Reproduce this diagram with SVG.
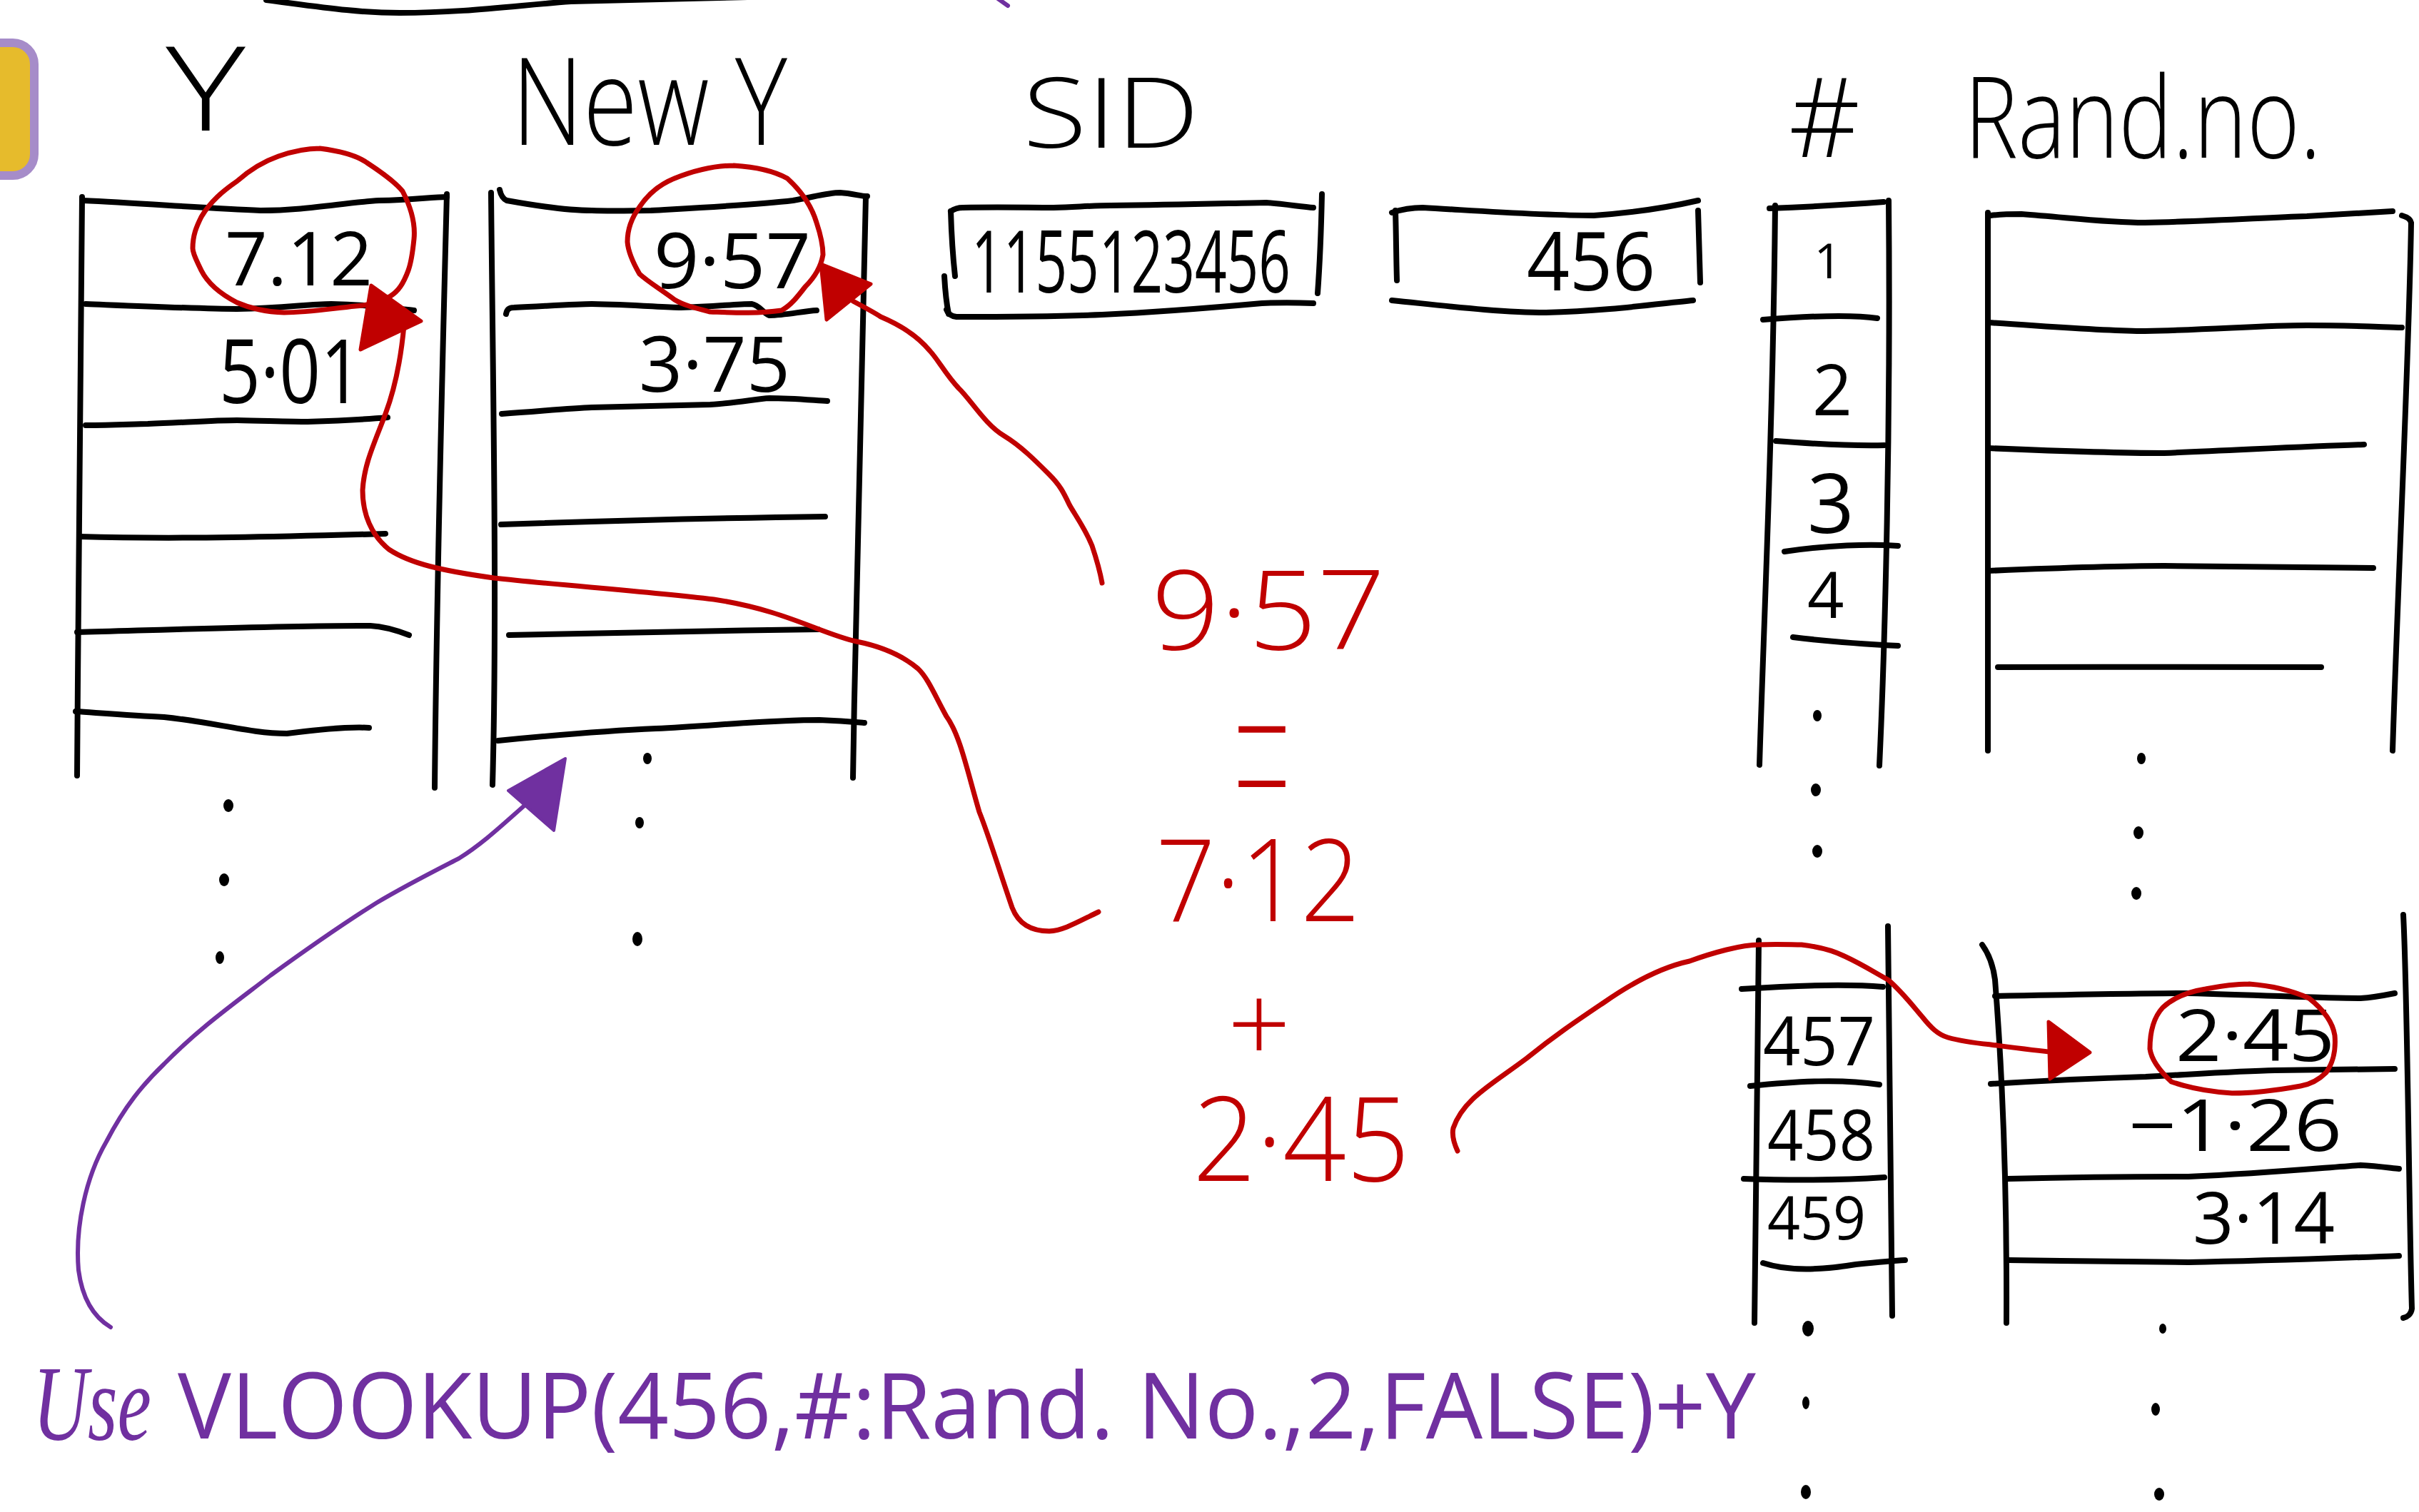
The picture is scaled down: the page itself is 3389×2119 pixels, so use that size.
<svg xmlns="http://www.w3.org/2000/svg" width="3389" height="2119" viewBox="0 0 3389 2119">
  <style>
    .ink{fill:none;stroke:#000;stroke-width:8;stroke-linecap:round;stroke-linejoin:round}
    .red{fill:none;stroke:#C00000;stroke-width:7;stroke-linecap:round;stroke-linejoin:round}
    .redfill{fill:#C00000;stroke:#C00000;stroke-width:5;stroke-linejoin:round}
    .pur{fill:none;stroke:#7030A0;stroke-width:6;stroke-linecap:round;stroke-linejoin:round}
    .purfill{fill:#7030A0;stroke:#7030A0;stroke-width:4;stroke-linejoin:round}
    .hand{font-family:"Open Sans","Liberation Sans",sans-serif;font-weight:300;fill:#000}
    .val{font-family:"Open Sans","Liberation Sans",sans-serif;font-weight:400;fill:#000}
    .rhand{font-family:"Open Sans","Liberation Sans",sans-serif;font-weight:300;fill:#C00000}
    .thin{font-family:Inter,"Open Sans",sans-serif;font-weight:100;fill:#C00000}
    .formula{font-family:"Open Sans","Liberation Sans",sans-serif;fill:#7030A0}
    .script{font-family:"Liberation Serif",serif;font-style:italic;fill:#7030A0}
    .dot{fill:#000}
  </style>

  <rect width="3389" height="2119" fill="#fff"/>

  <!-- top edge stroke and tab -->
  <path class="ink" d="M373 0 C450 10 500 18 560 18 C650 18 720 8 800 2 L1130 -6"/>
  <path class="pur" d="M1398 -2 L1412 8"/>
  <rect x="-40" y="60" width="88" height="186" rx="30" fill="#E6BB2C" stroke="#A68CC9" stroke-width="12"/>

  <!-- Y column -->
  <g id="table-y">
    <text class="hand" x="232" y="183" font-size="165" textLength="112" lengthAdjust="spacingAndGlyphs">Y</text>
    <path class="ink" d="M115 276 C113 500 110 800 108 1087"/>
    <path class="ink" d="M626 272 C620 500 612 800 609 1104"/>
    <path class="ink" d="M116 281 C200 285 290 292 365 295 C430 295 480 284 531 281 C580 280 605 276 626 276"/>
    <path class="ink" d="M120 426 C220 430 290 433 332 433 C400 432 430 426 464 426 C520 427 550 432 580 435"/>
    <path class="ink" d="M120 596 C160 596 190 594 207 594 C260 592 300 589 332 589 C380 590 410 591 431 591 C490 589 520 587 543 585"/>
    <path class="ink" d="M112 752 C250 756 400 752 540 748"/>
    <path class="ink" d="M108 886 C250 882 420 876 519 877 C540 878 560 885 573 890"/>
    <path class="ink" d="M106 997 C150 1000 190 1003 230 1005 C300 1012 350 1028 402 1028 C450 1022 490 1018 517 1020"/>
    <text class="val" x="315" y="400" font-size="105" textLength="207" lengthAdjust="spacingAndGlyphs">7.12</text>
    <text class="val" x="307" y="565" font-size="125" textLength="200" lengthAdjust="spacingAndGlyphs">5·01</text>
    <ellipse class="dot" cx="320" cy="1129" rx="7" ry="9"/>
    <ellipse class="dot" cx="314" cy="1233" rx="7" ry="9"/>
    <ellipse class="dot" cx="308" cy="1342" rx="6" ry="9"/>
  </g>

  <!-- New Y column -->
  <g id="table-new-y">
    <text class="hand" x="717" y="203" font-size="170" textLength="386" lengthAdjust="spacingAndGlyphs">New Y</text>
    <path class="ink" d="M688 270 C690 500 697 850 690 1100"/>
    <path class="ink" d="M1213 275 C1206 500 1200 800 1195 1090"/>
    <path class="ink" d="M700 266 C702 275 705 279 710 281 C760 290 800 295 829 295 C860 296 890 295 912 295 C1000 290 1060 287 1111 281 C1140 276 1160 270 1177 270 C1195 271 1205 275 1215 275"/>
    <path class="ink" d="M709 440 C710 434 713 431 720 431 C780 428 810 426 829 426 C890 427 930 431 954 431 C1000 430 1030 426 1053 426 C1065 428 1070 440 1078 442 C1100 442 1125 436 1144 435"/>
    <path class="ink" d="M703 580 C760 576 800 572 829 571 C900 569 960 568 995 567 C1030 565 1060 559 1078 558 C1110 558 1140 561 1159 562"/>
    <path class="ink" d="M702 735 C850 730 1000 726 1156 724"/>
    <path class="ink" d="M713 890 C850 887 1000 884 1146 882"/>
    <path class="ink" d="M698 1038 C780 1030 850 1024 919 1021 C1000 1017 1080 1009 1148 1009 C1180 1010 1200 1012 1211 1013"/>
    <text class="val" x="916" y="404" font-size="108" textLength="220" lengthAdjust="spacingAndGlyphs">9·57</text>
    <text class="val" x="895" y="549" font-size="108" textLength="212" lengthAdjust="spacingAndGlyphs">3·75</text>
    <ellipse class="dot" cx="907" cy="1063" rx="6" ry="8"/>
    <ellipse class="dot" cx="896" cy="1153" rx="6" ry="8"/>
    <ellipse class="dot" cx="893" cy="1316" rx="7" ry="10"/>
  </g>

  <!-- SID box -->
  <g id="box-sid">
    <text class="hand" x="1433" y="207" font-size="137" textLength="247" lengthAdjust="spacingAndGlyphs">SID</text>
    <path class="ink" d="M1332 296 C1338 292 1345 291 1349 291 C1400 290 1440 291 1476 291 C1510 290 1530 288 1556 288 C1650 287 1720 285 1774 284 C1800 286 1825 290 1840 291"/>
    <path class="ink" d="M1852 272 C1851 320 1849 370 1846 411"/>
    <path class="ink" d="M1840 425 C1815 424 1790 424 1768 425 C1690 432 1610 438 1544 441 C1470 444 1400 444 1340 444 C1332 443 1328 440 1326 434"/>
    <path class="ink" d="M1332 296 C1333 330 1335 360 1338 387"/>
    <path class="ink" d="M1323 387 C1324 405 1326 425 1329 440"/>
    <text class="val" x="1361" y="410" font-size="120" textLength="447" lengthAdjust="spacingAndGlyphs">1155123456</text>
  </g>

  <!-- extracted id box -->
  <g id="box-456">
    <path class="ink" d="M1950 298 C1965 293 1980 291 1993 291 C2080 296 2160 302 2233 302 C2290 298 2340 290 2379 281"/>
    <path class="ink" d="M1955 295 C1956 330 1956 360 1957 393"/>
    <path class="ink" d="M2379 295 C2380 330 2381 365 2382 396"/>
    <path class="ink" d="M1950 421 C2020 428 2100 438 2166 438 C2250 436 2320 426 2372 421"/>
    <text class="val" x="2139" y="407" font-size="113" textLength="180" lengthAdjust="spacingAndGlyphs">456</text>
  </g>

  <!-- # column, first rows -->
  <g id="table-index-top">
    <text class="hand" x="2506" y="220" font-size="155" textLength="100" lengthAdjust="spacingAndGlyphs">#</text>
    <path class="ink" d="M2487 288 C2484 600 2470 900 2465 1072"/>
    <path class="ink" d="M2646 281 C2649 600 2641 900 2633 1073"/>
    <path class="ink" d="M2479 292 C2530 290 2600 286 2639 283"/>
    <path class="ink" d="M2470 448 C2520 444 2590 440 2630 446"/>
    <path class="ink" d="M2488 618 C2540 622 2600 625 2640 624"/>
    <path class="ink" d="M2500 773 C2560 764 2620 762 2659 765"/>
    <path class="ink" d="M2512 893 C2560 899 2620 903 2659 905"/>
    <text class="val" x="2561" y="390" font-size="68" text-anchor="middle">1</text>
    <text class="val" x="2539" y="582" font-size="98">2</text>
    <text class="val" x="2532" y="747" font-size="115">3</text>
    <text class="val" x="2532" y="866" font-size="90">4</text>
    <ellipse class="dot" cx="2546" cy="1003" rx="6" ry="8"/>
    <ellipse class="dot" cx="2544" cy="1107" rx="7" ry="9"/>
    <ellipse class="dot" cx="2546" cy="1193" rx="7" ry="9"/>
  </g>

  <!-- Rand. no. column, first rows -->
  <g id="table-rand-top">
    <text class="hand" x="2752" y="221" font-size="158" textLength="500" lengthAdjust="spacingAndGlyphs">Rand.no.</text>
    <path class="ink" d="M2785 298 C2783 600 2786 900 2785 1052"/>
    <path class="ink" d="M3365 302 C3372 304 3377 307 3378 312 C3375 500 3360 800 3352 1052"/>
    <path class="ink" d="M2789 302 C2805 300 2820 300 2832 300 C2900 305 2950 312 3005 312 C3100 310 3170 305 3232 303 C3280 300 3320 298 3352 296"/>
    <path class="ink" d="M2785 452 C2880 458 2950 464 3005 464 C3100 462 3170 456 3232 456 C3290 456 3330 458 3365 459"/>
    <path class="ink" d="M2785 628 C2880 632 2960 635 3032 635 C3150 630 3240 625 3312 623"/>
    <path class="ink" d="M2785 800 C2880 796 2960 793 3032 793 C3150 794 3250 795 3325 796"/>
    <path class="ink" d="M2799 935 C2950 935 3100 934 3252 935"/>
    <ellipse class="dot" cx="3000" cy="1063" rx="6" ry="8"/>
    <ellipse class="dot" cx="2996" cy="1167" rx="7" ry="9"/>
    <ellipse class="dot" cx="2993" cy="1252" rx="7" ry="9"/>
  </g>

  <!-- # column, rows 457-459 -->
  <g id="table-index-bottom">
    <path class="ink" d="M2464 1318 C2462 1500 2460 1700 2458 1854"/>
    <path class="ink" d="M2645 1298 C2648 1500 2650 1700 2651 1844"/>
    <path class="ink" d="M2440 1386 C2500 1382 2580 1378 2638 1383"/>
    <path class="ink" d="M2452 1522 C2520 1515 2580 1512 2633 1520"/>
    <path class="ink" d="M2443 1652 C2500 1654 2580 1654 2640 1650"/>
    <path class="ink" d="M2470 1770 C2500 1780 2540 1782 2600 1772 C2630 1769 2650 1767 2669 1766"/>
    <text class="val" x="2470" y="1493" font-size="95" textLength="157" lengthAdjust="spacingAndGlyphs">457</text>
    <text class="val" x="2476" y="1626" font-size="99" textLength="151" lengthAdjust="spacingAndGlyphs">458</text>
    <text class="val" x="2476" y="1737" font-size="85" textLength="138" lengthAdjust="spacingAndGlyphs">459</text>
    <ellipse class="dot" cx="2533" cy="1862" rx="8" ry="11"/>
    <ellipse class="dot" cx="2530" cy="1966" rx="5" ry="9"/>
    <ellipse class="dot" cx="2530" cy="2091" rx="7" ry="10"/>
  </g>

  <!-- Rand. no. column, rows 457-459 -->
  <g id="table-rand-bottom">
    <path class="ink" d="M2777 1324 C2785 1335 2792 1350 2795 1373 C2805 1500 2812 1650 2811 1854"/>
    <path class="ink" d="M3367 1282 C3373 1400 3375 1700 3379 1834 C3378 1842 3372 1846 3367 1847"/>
    <path class="ink" d="M2795 1396 C2900 1394 3000 1392 3066 1392 C3180 1395 3260 1399 3307 1399 C3325 1398 3340 1395 3355 1392"/>
    <path class="ink" d="M2789 1519 C2870 1514 2940 1511 3006 1509 C3080 1505 3140 1501 3187 1500 C3260 1499 3320 1498 3355 1498"/>
    <path class="ink" d="M2813 1652 C2900 1650 3000 1649 3066 1649 C3180 1644 3260 1636 3307 1633 C3330 1634 3350 1637 3361 1638"/>
    <path class="ink" d="M2813 1766 C2900 1767 3000 1769 3066 1769 C3180 1767 3280 1763 3361 1760"/>
    <text class="val" x="3048" y="1487" font-size="100" textLength="223" lengthAdjust="spacingAndGlyphs">2·45</text>
    <text class="val" x="2982" y="1613" font-size="100" textLength="299" lengthAdjust="spacingAndGlyphs">−1·26</text>
    <text class="val" x="3072" y="1743" font-size="100" textLength="199" lengthAdjust="spacingAndGlyphs">3·14</text>
    <ellipse class="dot" cx="3030" cy="1862" rx="5" ry="7"/>
    <ellipse class="dot" cx="3020" cy="1975" rx="6" ry="9"/>
    <ellipse class="dot" cx="3025" cy="2094" rx="7" ry="9"/>
  </g>

  <!-- worked sum -->
  <g id="sum">
    <text class="rhand" x="1613" y="910" font-size="155" textLength="328" lengthAdjust="spacingAndGlyphs">9·57</text>
    <text class="thin" font-size="200" text-anchor="middle" transform="translate(1768 1058) scale(0.97 2.0)" y="58">=</text>
    <text class="rhand" x="1619" y="1291" font-size="160" textLength="287" lengthAdjust="spacingAndGlyphs">7·12</text>
    <text class="rhand" x="1764" y="1490" font-size="155" text-anchor="middle">+</text>
    <text class="rhand" x="1671" y="1655" font-size="165" textLength="304" lengthAdjust="spacingAndGlyphs">2·45</text>
  </g>

  <!-- highlight rings -->
  <g id="rings">
    <path class="red" d="M448 208 C480 212 500 218 514 228 C540 245 556 258 564 268 C578 295 582 315 580 335 C578 355 576 368 572 379 C565 398 558 408 547 415 C530 425 515 428 498 429 C460 433 430 438 398 438 C370 437 350 432 332 424 C305 410 290 395 282 379 C276 366 270 356 270 348 C270 330 275 318 282 304 C295 282 312 268 332 254 C350 238 370 226 390 219 C410 212 430 208 448 208"/>
    <path class="red" d="M1028 232 C1060 234 1085 240 1103 250 C1125 270 1138 292 1144 312 C1150 330 1153 345 1153 357 C1150 375 1140 390 1128 402 C1118 415 1108 428 1095 435 C1060 440 1025 438 995 437 C975 432 958 428 945 420 C925 405 908 395 896 384 C885 365 880 352 879 339 C879 320 885 305 896 290 C908 272 925 258 945 250 C970 240 1000 232 1028 232"/>
    <path class="red" d="M3151 1379 C3190 1382 3215 1390 3235 1399 C3255 1415 3268 1432 3271 1451 C3273 1475 3268 1490 3259 1503 C3248 1514 3235 1520 3223 1522 C3190 1528 3160 1532 3127 1532 C3095 1530 3065 1524 3042 1516 C3025 1500 3014 1485 3012 1470 C3012 1445 3018 1425 3030 1412 C3045 1398 3065 1390 3090 1386 C3110 1382 3130 1379 3151 1379"/>
  </g>

  <!-- connectors -->
  <g id="connectors">
    <path class="red" d="M1539 1278 C1510 1292 1490 1304 1470 1305 C1440 1305 1425 1290 1418 1272 C1400 1220 1385 1170 1372 1138 C1355 1080 1345 1030 1326 1004 C1310 975 1300 950 1286 937 C1260 915 1230 905 1200 899 C1150 888 1100 855 1000 840 C900 828 780 820 692 810 C620 800 575 790 545 770 C520 750 508 720 508 687 C510 650 525 620 540 580 C555 540 562 500 566 456"/>
    <polygon class="redfill" points="520,400 590,450 505,490"/>
    <path class="red" d="M1544 817 C1540 795 1535 780 1530 765 C1520 740 1505 720 1498 707 C1490 690 1485 680 1470 665 C1450 645 1430 625 1407 611 C1380 595 1360 560 1343 544 C1325 525 1315 505 1303 492 C1285 470 1260 455 1234 444 C1225 438 1210 430 1195 422"/>
    <polygon class="redfill" points="1150,370 1220,398 1158,448"/>
    <path class="red" d="M2042 1613 C2036 1600 2034 1590 2036 1581 C2050 1540 2090 1520 2139 1483 C2180 1450 2210 1430 2247 1405 C2290 1375 2330 1355 2367 1347 C2400 1335 2440 1324 2464 1324 C2490 1323 2510 1324 2524 1324 C2550 1327 2570 1333 2584 1340 C2610 1352 2630 1365 2645 1373 C2665 1390 2680 1410 2693 1425 C2705 1440 2715 1450 2729 1454 C2750 1460 2770 1462 2789 1464 C2820 1468 2850 1472 2880 1475"/>
    <polygon class="redfill" points="2870,1432 2928,1475 2872,1512"/>
    <path class="pur" d="M155 1860 C130 1845 115 1818 110 1780 C105 1720 120 1650 149 1600 C175 1550 200 1520 230 1491 C280 1440 330 1405 379 1367 C430 1330 480 1295 528 1265 C570 1240 610 1220 643 1203 C680 1180 710 1150 745 1120"/>
    <polygon class="purfill" points="792,1063 712,1108 776,1164"/>
  </g>

  <!-- formula note -->
  <g id="note">
    <text class="script" x="46" y="2018" font-size="150" textLength="166" lengthAdjust="spacingAndGlyphs">Use</text>
    <text class="formula" x="249" y="2016" font-size="128" textLength="2211" lengthAdjust="spacingAndGlyphs">VLOOKUP(456,#:Rand. No.,2,FALSE)+Y</text>
  </g>
</svg>
